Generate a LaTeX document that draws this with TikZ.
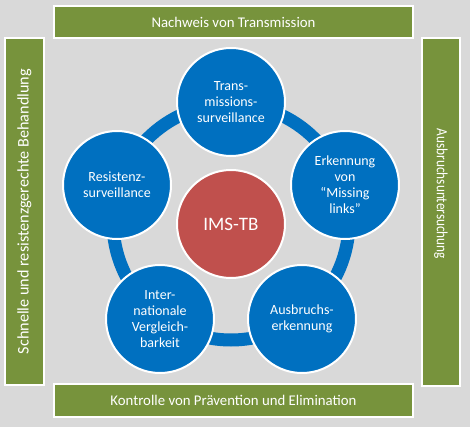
\documentclass[tikz,border=0pt]{standalone}
\usepackage{fontspec}
\setmainfont{Carlito}
\definecolor{imsblue}{HTML}{0070C0}
\definecolor{imsred}{HTML}{C0504D}
\definecolor{imsgreen}{HTML}{77933C}
\definecolor{imsgray}{HTML}{D9D9D9}
\tikzset{
	topic/.style={circle, draw=white, line width=2pt, fill=imsblue, minimum size=108pt, inner sep=0pt, text=white, align=center, font=\fontsize{14}{16}\selectfont},
	core/.style={topic, fill=imsred, font=\fontsize{19}{22}\selectfont},
	bar/.style={rectangle, draw=white, line width=1.5pt, fill=imsgreen, inner sep=0pt, text=white, font=\fontsize{14.8}{17}\selectfont}
}
\begin{document}
\begin{tikzpicture}[x=1pt, y=-1pt]
	\fill [imsgray] (0,0) rectangle (470,427);
	\useasboundingbox (0,0) rectangle (470,427);
	% frame of bars
	\node [bar, minimum width=359pt, minimum height=32pt] (transmission) at (233.5,22) {Nachweis von Transmission};
	\node [bar, minimum width=359pt, minimum height=33pt] (kontrolle) at (233.5,400.5) {Kontrolle von Prävention und Elimination};
	\node [bar, rotate=90, minimum width=347pt, minimum height=39pt, font=\fontsize{16.2}{19}\selectfont] (behandlung) at (24.5,211.5) {Schnelle und resistenzgerechte Behandlung};
	\node [bar, rotate=-90, minimum width=348pt, minimum height=38pt, inner xsep=91pt, text width=166pt, align=left, font=\fontsize{15.6}{18}\selectfont] (ausbruch) at (441,212) {\scalebox{0.85}[1]{Ausbruchsuntersuchung}};
	% ring and circles
	\coordinate (mid) at (231,222);
	\draw [imsblue, line width=13pt] (mid) circle (118);
	\node [core] (ims) at (231,224) {IMS-TB};
	\node [topic] (transsurv) at (231,102) {Trans-\\missions-\\surveillance};
	\node [topic] (missing) at (345,185) {Erkennung\\von\\“Missing\\links”};
	\node [topic] (ausbruchserk) at (302,319) {Ausbruchs-\\erkennung};
	\node [topic] (vergleich) at (160,319) {Inter-\\nationale\\Vergleich-\\barkeit};
	\node [topic] (resistenz) at (117,185) {Resistenz-\\surveillance};
\end{tikzpicture}
\end{document}
